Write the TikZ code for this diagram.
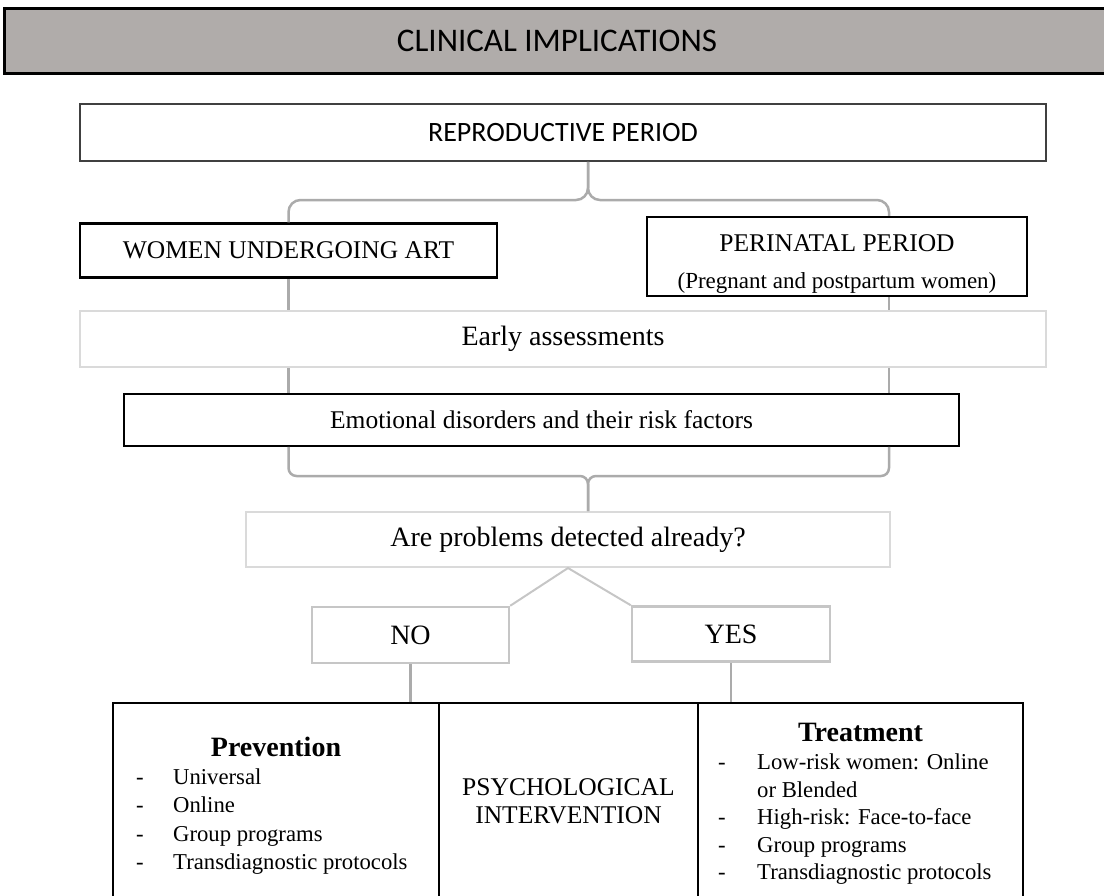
\documentclass[tikz,border=0pt]{standalone}
\usepackage{fontspec}
\setmainfont{Liberation Serif}
\newfontfamily\calibrifont{Carlito}
\usetikzlibrary{positioning}
\definecolor{titlegray}{HTML}{B0ACAA}
\definecolor{linegray}{HTML}{ABABAB}
\definecolor{palegray}{HTML}{DADADA}
\definecolor{boxgray}{HTML}{C6C6C6}
\definecolor{darkframe}{HTML}{404040}
\def\sz#1{\fontsize{#1}{1.2\dimexpr#1pt\relax}\selectfont}

\begin{document}
\begin{tikzpicture}[x=1pt,y=-1pt,
  box/.style={draw, inner sep=0pt, align=center},
  conn/.style={draw=linegray, line width=2.5pt},
  cell/.style={draw=black, line width=2pt, inner sep=0pt, minimum height=212pt}]
\useasboundingbox (0,0) rectangle (1104,895);

%%% header %%%%
\node[box, line width=3pt, fill=titlegray, minimum width=1106pt, minimum height=65pt,
  font=\calibrifont\sz{33}] (title) at (557,40.5) {CLINICAL IMPLICATIONS};

%% boxes
\node[box, draw=darkframe, line width=1.8pt, minimum width=966pt, minimum height=57pt,
  font=\calibrifont\sz{28}] (repro) at (563,132.5) {REPRODUCTIVE PERIOD};
\node[box, line width=2.5pt, minimum width=417pt, minimum height=54pt,
  font=\sz{25.5}] (art) at (288.5,250.5) {WOMEN UNDERGOING ART};
\node[box, line width=2.5pt, minimum width=380pt, minimum height=79pt,
  font=\fontsize{25.5}{37}\selectfont] (peri) at (837,256.5)
  {\rule{0pt}{31pt}PERINATAL PERIOD\\{\fontsize{23}{37}\selectfont (Pregnant and postpartum women)}};
\node[box, draw=palegray, line width=2pt, minimum width=966pt, minimum height=56pt,
  font=\sz{28}] (early) at (563,339) {Early assessments};
\node[box, line width=1.5pt, minimum width=835pt, minimum height=52pt,
  font=\sz{25.5}] (emo) at (541.5,420) {Emotional disorders and their risk factors};
\node[box, draw=palegray, line width=2pt, minimum width=644pt, minimum height=55pt,
  font=\sz{28}] (ask) at (568,539.5) {Are problems detected already?};
\node[box, draw=boxgray, line width=2.5pt, minimum width=197pt, minimum height=56pt,
  font=\sz{28}] (no) at (410.5,635) {NO};
\node[box, draw=boxgray, line width=2.5pt, minimum width=198pt, minimum height=55pt,
  font=\sz{28}] (yes) at (731,634) {YES};

%% bottom cells
\node[cell, minimum width=326pt] (prevcell) at (276,809) {};
\node[cell, minimum width=259pt] (psycell) at (568.5,809) {};
\node[cell, minimum width=325pt] (treatcell) at (860.5,809) {};

%% cell texts
\node[font=\bfseries\sz{28}, inner sep=0pt] (prevhead) at (276,747) {Prevention};
\node[anchor=base west, inner sep=0pt, font=\fontsize{22.7}{28.3}\selectfont] (prevlist) at (136,784.5)
  {\begin{tabular}[t]{@{}p{37pt}@{}l@{}}
   - & Universal\\
   - & Online\\
   - & Group programs\\
   - & Transdiagnostic protocols
   \end{tabular}};
\node[align=center, inner sep=0pt, font=\fontsize{25.5}{28}\selectfont] (psytext) at (568.5,801)
  {PSYCHOLOGICAL\\INTERVENTION};
\node[font=\bfseries\sz{28}, inner sep=0pt] (treathead) at (860.5,732) {Treatment};
\node[anchor=base west, inner sep=0pt, font=\fontsize{22.7}{27.5}\selectfont] (treatlist) at (718,769.5)
  {\begin{tabular}[t]{@{}p{39pt}@{}l@{}}
   - & Low-risk women: Online\\
     & or Blended\\
   - & High-risk: Face-to-face\\
   - & Group programs\\
   - & Transdiagnostic protocols
   \end{tabular}};

%% connectors
\coordinate (railR) at (889,0);
\coordinate (topknot) at (588,200);
\coordinate (botknot) at (588,476);
\draw[conn, rounded corners=12pt] (art.north) |- (topknot) -- (repro.south -| topknot);
\draw[conn, rounded corners=12pt] (peri.north -| railR) |- (topknot) -- (repro.south -| topknot);
\draw[conn] (art.south) to (art.south |- early.north);
\draw[conn] (peri.south -| railR) to (early.north -| railR);
\draw[conn] (early.south -| art) to (emo.north -| art);
\draw[conn] (early.south -| railR) to (emo.north -| railR);
\draw[conn, rounded corners=8pt] (emo.south -| art) |- (botknot) -- (ask.north -| botknot);
\draw[conn, rounded corners=8pt] (emo.south -| railR) |- (botknot) -- (ask.north -| botknot);
\draw[conn, draw=boxgray, line width=2pt] (no.north east) -- (ask.south) -- (yes.north west);
\draw[conn] (no.south) to (no.south |- prevcell.north);
\draw[conn] (yes.south) to (yes.south |- treatcell.north);

\end{tikzpicture}
\end{document}
